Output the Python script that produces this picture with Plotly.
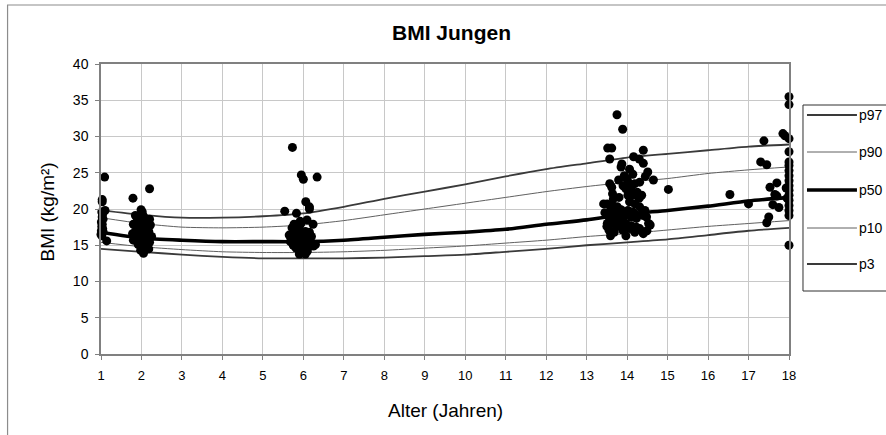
import plotly.graph_objects as go

# ---------------- data ----------------
ages = list(range(1, 19))
p97 = [19.8, 19.2, 18.8, 18.8, 19.0, 19.4, 20.3, 21.4, 22.4, 23.4, 24.5, 25.5, 26.3, 27.1, 27.6, 28.1, 28.6, 28.9]
p90 = [18.8, 18.0, 17.5, 17.4, 17.5, 17.8, 18.4, 19.2, 20.0, 20.8, 21.6, 22.4, 23.1, 23.7, 24.2, 24.9, 25.4, 25.8]
p50 = [16.8, 16.0, 15.7, 15.5, 15.5, 15.5, 15.7, 16.1, 16.5, 16.8, 17.2, 17.9, 18.5, 19.3, 19.8, 20.4, 21.1, 21.6]
p10 = [15.4, 14.8, 14.4, 14.1, 14.0, 14.0, 14.1, 14.3, 14.6, 14.9, 15.3, 15.7, 16.2, 16.6, 17.1, 17.6, 18.0, 18.4]
p3 = [14.5, 14.1, 13.7, 13.4, 13.2, 13.2, 13.2, 13.3, 13.5, 13.7, 14.1, 14.5, 15.0, 15.4, 15.8, 16.4, 17.0, 17.4]

age_1 = [1.09, 1.03, 1.03, 1.10, 1.02, 1.04, 1.03, 1.05, 1.01, 1.03, 1.02, 1.04, 1.01, 1.03, 1.14, 1.00, 1.02, 1.05]
bmi_1 = [24.4, 21.3, 21.0, 19.8, 19.6, 19.3, 18.9, 18.6, 18.2, 17.9, 17.6, 17.3, 17.0, 16.8, 15.6, 16.5, 16.3, 16.9]

age_2 = [1.79, 2.20, 1.99, 2.02, 1.85, 2.05, 2.12, 2.20, 1.80, 1.95, 2.08, 2.15, 1.78, 1.85, 1.95, 2.02,
         2.10, 2.18, 2.25, 1.80, 1.90, 1.98, 2.05, 2.12, 2.20, 1.92, 2.00, 2.08, 2.15, 1.98, 2.05, 2.10,
         2.18, 1.88, 2.00, 1.90, 2.14, 1.96, 2.06, 2.22]
bmi_2 = [21.5, 22.8, 19.9, 19.6, 19.1, 19.0, 18.4, 18.6, 17.9, 18.2, 17.8, 17.5, 16.6, 16.9, 17.2, 16.8,
         16.5, 16.9, 16.2, 15.7, 15.9, 16.2, 15.6, 15.9, 15.4, 15.1, 14.8, 14.6, 14.9, 14.3, 13.9, 14.4,
         14.5, 16.4, 17.5, 18.5, 17.2, 15.5, 15.2, 17.8]

age_6 = [5.73, 5.95, 6.00, 6.34, 6.06, 6.15, 6.15, 5.54, 5.83, 6.09, 6.24, 5.77, 5.94, 5.80, 5.90, 6.05,
         6.15, 5.70, 5.85, 6.00, 6.12, 5.75, 5.82, 6.10, 6.25, 5.90, 6.05, 6.10, 5.72, 5.85, 5.98, 6.08,
         5.68, 5.95, 6.18, 5.80, 6.00, 5.65, 6.20, 5.92, 6.30]
bmi_6 = [28.5, 24.7, 24.1, 24.4, 21.0, 20.3, 20.0, 19.7, 19.4, 18.5, 17.9, 17.9, 18.0, 16.9, 17.2, 16.9,
         16.8, 16.0, 16.1, 15.9, 15.8, 15.0, 14.6, 15.0, 14.9, 13.8, 13.8, 14.2, 17.4, 17.6, 16.5, 16.4,
         15.5, 15.3, 15.4, 15.8, 14.4, 16.4, 16.2, 18.3, 15.1]

age_14 = [13.75, 13.89, 13.52, 13.62, 13.57, 14.40, 14.16, 14.30, 14.40, 13.87, 13.85, 14.06, 14.14, 14.51,
          14.65, 13.93, 13.79, 13.57, 13.62, 14.06, 14.19, 14.31, 13.97, 14.10, 14.02, 14.14, 14.36, 13.64,
          13.66, 13.42, 13.51, 13.64, 13.76, 13.85, 14.06, 14.19, 14.31, 14.44, 14.02, 14.14, 13.55, 13.64,
          13.76, 13.89, 14.10, 14.23, 14.40, 14.48, 13.51, 13.64, 13.81, 13.97, 14.53, 13.55, 13.68, 13.89,
          14.06, 14.23, 14.31, 14.57, 13.59, 13.97, 14.19, 14.27, 13.45, 13.70, 13.95, 14.20, 13.60, 14.30,
          13.80, 13.90, 14.00, 14.25, 13.50, 14.10, 14.40, 13.75, 14.45, 14.49, 15.02]
bmi_14 = [33.0, 31.0, 28.4, 28.4, 26.9, 28.1, 27.2, 26.9, 26.3, 26.2, 25.8, 25.5, 24.8, 25.1,
          24.0, 24.6, 24.0, 23.5, 23.0, 23.5, 23.5, 23.7, 22.8, 22.6, 21.9, 21.9, 21.9, 22.1,
          21.4, 20.7, 20.7, 20.5, 20.3, 19.9, 21.0, 20.7, 20.3, 19.8, 19.8, 19.6, 18.9, 18.7,
          18.9, 18.7, 18.9, 18.7, 19.1, 18.9, 18.0, 18.0, 18.0, 18.0, 18.0, 17.1, 16.8, 17.1,
          17.3, 17.5, 17.3, 17.8, 16.3, 16.3, 16.8, 17.2, 19.5, 19.3, 19.2, 19.3, 19.9, 21.5,
          21.6, 23.2, 24.1, 22.3, 17.6, 17.7, 16.6, 17.6, 24.5, 17.0, 22.7]

age_18 = [16.54, 17.00, 17.38, 17.30, 17.45, 17.85, 17.90, 17.53, 17.70, 17.65, 17.70, 17.60, 17.75, 17.50,
          17.45, 18.0, 18.0, 18.0, 18.0, 18.0, 18.0, 18.0, 18.0, 18.0, 18.0, 18.0, 18.0, 18.0, 18.0,
          18.0, 18.0, 18.0, 17.93, 17.95]
bmi_18 = [22.0, 20.7, 29.4, 26.5, 26.1, 30.4, 30.1, 23.0, 23.6, 22.0, 21.8, 20.6, 20.2, 18.9,
          18.1, 35.5, 34.4, 29.7, 27.9, 26.5, 26.0, 25.3, 24.6, 23.9, 23.2, 22.6, 21.9, 21.2, 20.5,
          19.8, 19.1, 15.0, 22.9, 21.5]

x_ticks = list(range(1, 19))
y_ticks = [0, 5, 10, 15, 20, 25, 30, 35, 40]
legend_names = ["p97", "p90", "p50", "p10", "p3"]

# ---------------- figure ----------------
W, H = 886, 435
L, R, T, B = 100.5, 97, 64, 81
pw, ph = W - L - R, H - T - B


def px(xp):
    return (xp - L) / pw


def py(yp):
    return (H - B - yp) / ph


FONT = "Liberation Sans, Arial, sans-serif"
styles = {
    "p97": dict(color="#3a3a3a", width=1.8),
    "p90": dict(color="#606060", width=1.0),
    "p50": dict(color="#000000", width=3.6),
    "p10": dict(color="#606060", width=1.0),
    "p3": dict(color="#3a3a3a", width=1.8),
}
series = {"p97": p97, "p90": p90, "p50": p50, "p10": p10, "p3": p3}

fig = go.Figure()
for name in legend_names:
    fig.add_trace(go.Scatter(x=ages, y=series[name], mode="lines", name=name,
                             line=dict(shape="spline", smoothing=0.6, **styles[name]),
                             showlegend=False, hoverinfo="skip"))

all_age = age_1 + age_2 + age_6 + age_14 + age_18
all_bmi = bmi_1 + bmi_2 + bmi_6 + bmi_14 + bmi_18
fig.add_trace(go.Scatter(x=all_age, y=all_bmi, mode="markers", showlegend=False,
                         marker=dict(color="black", size=9, line=dict(width=0)),
                         cliponaxis=False))

shapes = []
# outer chart frame
shapes.append(dict(type="rect", xref="paper", yref="paper",
                   x0=px(7), x1=px(900), y0=py(450), y1=py(5),
                   line=dict(color="#8c8c8c", width=1.2), layer="below"))
# legend box
shapes.append(dict(type="rect", xref="paper", yref="paper",
                   x0=px(803), x1=px(900), y0=py(291), y1=py(105),
                   line=dict(color="#303030", width=1), fillcolor="white"))
annotations = []
leg_y = [115, 152, 190, 228, 264]
for name, yy in zip(legend_names, leg_y):
    st = styles[name]
    shapes.append(dict(type="line", xref="paper", yref="paper",
                       x0=px(807), x1=px(857), y0=py(yy), y1=py(yy),
                       line=dict(color=st["color"], width=st["width"])))
    annotations.append(dict(xref="paper", yref="paper", x=px(857), y=py(yy),
                            text=name, showarrow=False, xanchor="left", yanchor="middle",
                            font=dict(family=FONT, size=14, color="black")))

annotations.append(dict(xref="paper", yref="paper", x=px(451), y=py(33),
                        text="<b>BMI Jungen</b>", showarrow=False,
                        xanchor="center", yanchor="middle",
                        font=dict(family=FONT, size=21, color="black")))
annotations.append(dict(xref="paper", yref="paper", x=px(445), y=py(410),
                        text="Alter (Jahren)", showarrow=False,
                        xanchor="center", yanchor="middle",
                        font=dict(family=FONT, size=19, color="black")))
annotations.append(dict(xref="paper", yref="paper", x=px(46), y=py(212),
                        text="BMI (kg/m²)", showarrow=False, textangle=-90,
                        xanchor="center", yanchor="middle",
                        font=dict(family=FONT, size=19, color="black")))

fig.update_layout(
    width=W, height=H,
    margin=dict(l=L, r=R, t=T, b=B),
    paper_bgcolor="white", plot_bgcolor="white",
    shapes=shapes, annotations=annotations,
    showlegend=False,
    font=dict(family=FONT, size=13, color="black"),
)
fig.update_xaxes(range=[1, 18], tickvals=x_ticks, ticktext=[str(v) for v in x_ticks],
                 showgrid=True, gridcolor="#c8c8c8", gridwidth=1,
                 showline=True, linecolor="#808080", linewidth=1.5, mirror=True,
                 ticks="outside", ticklen=4, tickcolor="#808080", ticklabelstandoff=5,
                 tickfont=dict(family=FONT, size=13), zeroline=False)
fig.update_yaxes(range=[0, 40], tickvals=y_ticks, ticktext=[str(v) for v in y_ticks],
                 showgrid=True, gridcolor="#c8c8c8", gridwidth=1,
                 showline=True, linecolor="#808080", linewidth=1.5, mirror=True,
                 ticks="outside", ticklen=4, tickcolor="#808080", ticklabelstandoff=4,
                 tickfont=dict(family=FONT, size=14), zeroline=False)

fig.write_html("out.html")
